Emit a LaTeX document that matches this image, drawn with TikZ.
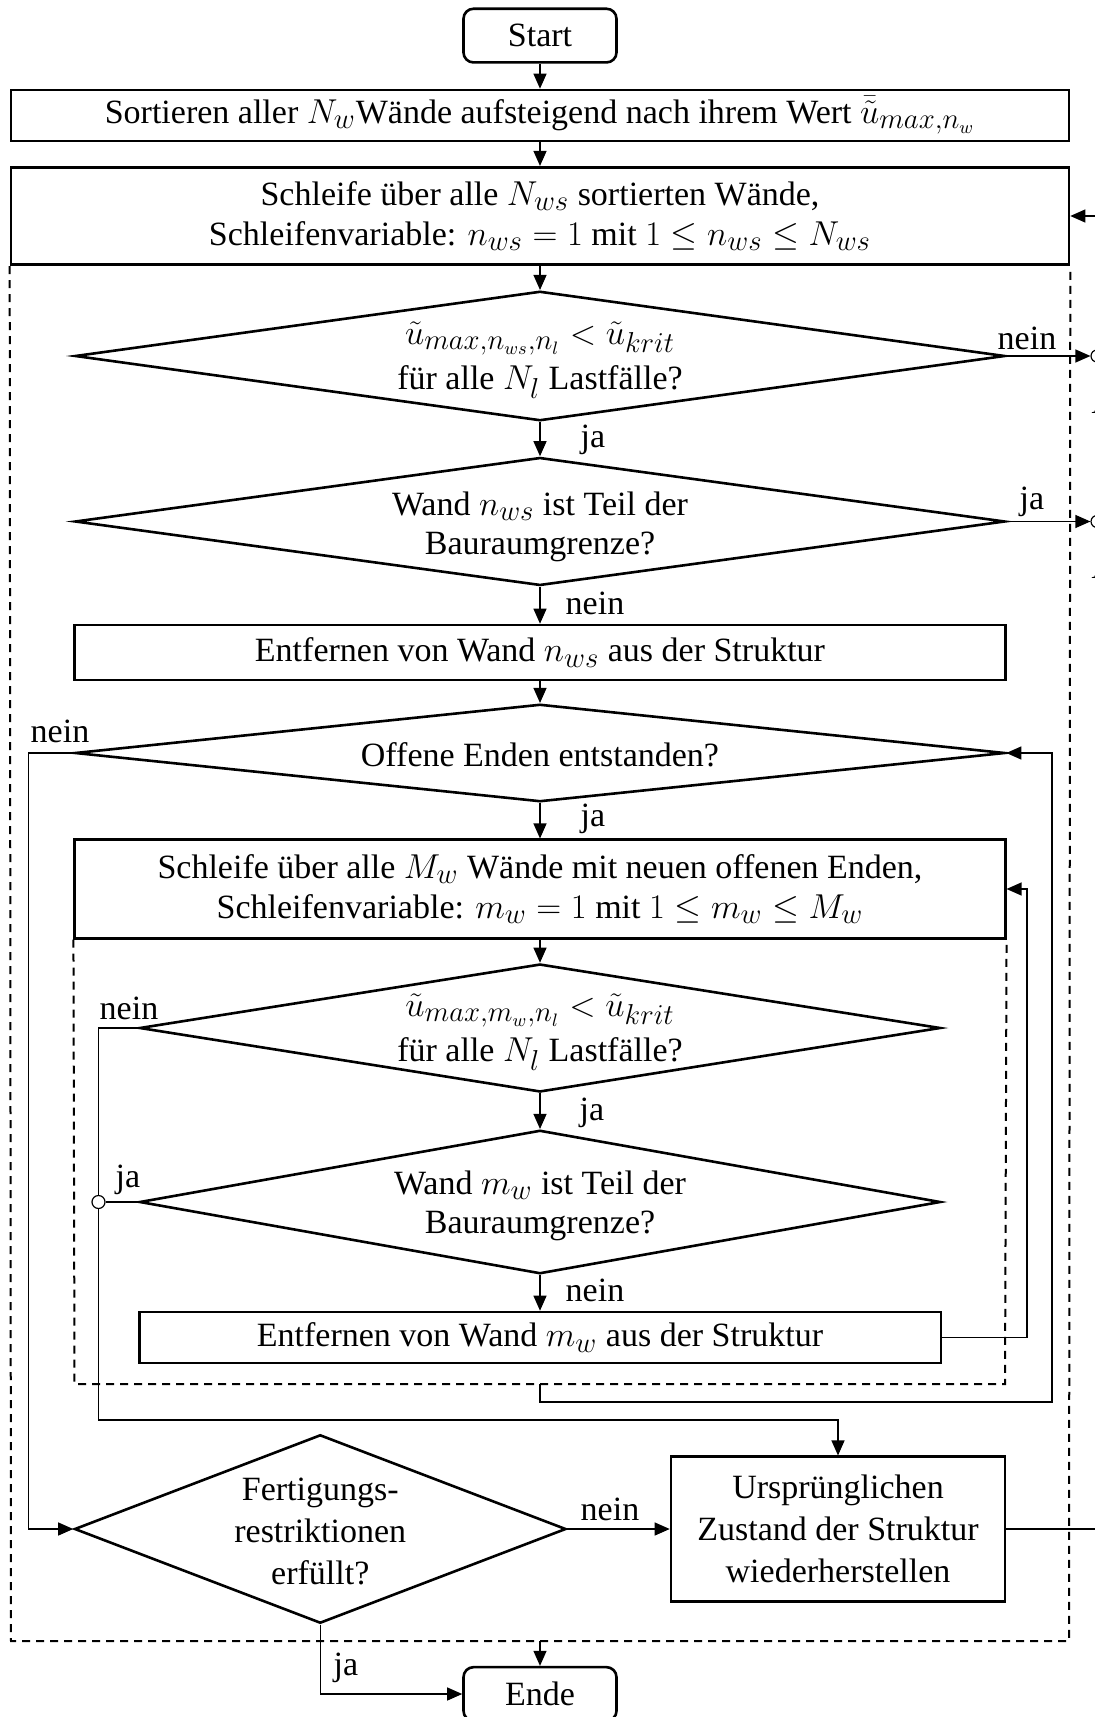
\documentclass[tikz,border=0pt]{standalone}
\usepackage{fontspec}
\setmainfont{Liberation Serif}
\usetikzlibrary{arrows.meta,shapes.geometric}
% math set slightly larger than the running text
\newcommand{\mth}[1]{{\fontsize{19pt}{19.7pt}\selectfont$#1$}}
\begin{document}
\begin{tikzpicture}[x=0.5pt,y=-0.5pt,
  every node/.style={font=\fontsize{17pt}{19.7pt}\selectfont},
  proc/.style={draw, line width=1.3pt, inner sep=0pt, align=center},
  term/.style={proc, rounded corners=5pt},
  dec/.style={draw, line width=1.3pt, diamond, inner sep=0pt},
  txt/.style={align=center, inner sep=0pt},
  lbl/.style={inner sep=0pt},
  flow/.style={line width=0.6pt, -{Triangle[length=7.5pt,width=6.5pt]}},
  link/.style={line width=0.6pt},
  loopline/.style={line width=1pt, dash pattern=on 4pt off 3pt},
  conn/.style={circle, draw, line width=0.6pt, fill=white, inner sep=0pt, minimum size=6pt},
]
\useasboundingbox (0,0) rectangle (1095,1717);
\clip (0,0) rectangle (1095,1717);

% ---------- main column ----------
\node[term, minimum width=76.5pt, minimum height=26.85pt] (start) at (540,35.6) {Start};
\node[proc, minimum width=529pt, minimum height=25.5pt] (sort) at (540,115.5)
  {Sortieren aller \mth{N_w}Wände aufsteigend nach ihrem Wert \mth{\bar{\tilde{u}}_{max,n_w}}};
\node[proc, minimum width=529pt, minimum height=48.75pt] (loop1) at (540,216)
  {Schleife über alle \mth{N_{ws}} sortierten Wände,\\
   Schleifenvariable: \mth{n_{ws}=1} mit \mth{1\le n_{ws}\le N_{ws}}};

\node[dec, minimum width=465pt, minimum height=64.75pt] (d1) at (540,356) {};
\node[txt] (d1t) at (540,360)
  {\mth{\tilde{u}_{max,n_{ws},n_l}<\tilde{u}_{krit}}\\[3pt] für alle \mth{N_l} Lastfälle?};

\node[dec, minimum width=465pt, minimum height=64pt] (d2) at (540,521.5) {};
\node[txt] (d2t) at (540,527) {Wand \mth{n_{ws}} ist Teil der\\ Bauraumgrenze?};

\node[proc, minimum width=465.25pt, minimum height=27.5pt] (rm1) at (540,652.5)
  {Entfernen von Wand \mth{n_{ws}} aus der Struktur};

\node[dec, minimum width=465pt, minimum height=48.75pt] (d3) at (540,753) {};
\node[txt] (d3t) at (540,755) {Offene Enden entstanden?};

\node[proc, minimum width=465.25pt, minimum height=49.25pt] (loop2) at (540,889)
  {Schleife über alle \mth{M_w} Wände mit neuen offenen Enden,\\
   Schleifenvariable: \mth{m_w=1} mit \mth{1\le m_w\le M_w}};

\node[dec, minimum width=400.5pt, minimum height=64pt] (d4) at (540,1028) {};
\node[txt] (d4t) at (540,1032)
  {\mth{\tilde{u}_{max,m_w,n_l}<\tilde{u}_{krit}}\\[3pt] für alle \mth{N_l} Lastfälle?};

\node[dec, minimum width=400.5pt, minimum height=71.75pt] (d5) at (540,1202) {};
\node[txt] (d5t) at (540,1206) {Wand \mth{m_w} ist Teil der\\ Bauraumgrenze?};

\node[proc, minimum width=400.8pt, minimum height=25.5pt] (rm2) at (540,1337.5)
  {Entfernen von Wand \mth{m_w} aus der Struktur};

\node[dec, minimum width=245.75pt, minimum height=94.25pt] (fert) at (320.25,1529) {};
\node[txt, font=\fontsize{17pt}{21pt}\selectfont] (fertt) at (320.25,1531)
  {Fertigungs-\\ restriktionen\\ erfüllt?};

\node[proc, minimum width=167pt, minimum height=72.25pt,
      font=\fontsize{17pt}{21pt}\selectfont] (restore) at (838,1529)
  {Ursprünglichen\\ Zustand der Struktur\\ wiederherstellen};

\node[term, minimum width=76.5pt, minimum height=26.85pt] (ende) at (540,1694) {Ende};

% ---------- loop regions ----------
\coordinate (outBot) at (540,1641);
\coordinate (inBot) at (540,1384);
\draw[loopline] (loop1.south west) -- (11,1641) -- (1069,1641) -- (loop1.south east);
\draw[loopline] (loop2.south west) -- (74.5,1384) -- (1005,1384) -- (loop2.south east);

% ---------- straight flow ----------
\draw[flow] (start) -- (sort);
\draw[flow] (sort) -- (loop1);
\draw[flow] (loop1) -- (d1);
\draw[flow] (d1) -- (d2);
\draw[flow] (d2) -- (rm1);
\draw[flow] (rm1) -- (d3);
\draw[flow] (d3) -- (loop2);
\draw[flow] (loop2) -- (d4);
\draw[flow] (d4) -- (d5);
\draw[flow] (d5) -- (rm2);
\draw[flow] (outBot) -- (ende.north);

% ---------- off-page connectors at the right ----------
\node[conn] (conA) at (1097,356) {};
\node[conn] (conB) at (1097,521.5) {};
\node[lbl] (conAt) at (1104,402) {A};
\node[lbl] (conBt) at (1104,567) {A};
\draw[flow] (d1.east) -- (d1.east -| conA.west);
\draw[flow] (d2.east) -- (d2.east -| conB.west);
\coordinate (retIn) at (1100,216);
\draw[flow] (retIn) -- (loop1.east);
\draw[link] (restore.east) -- (restore.east -| retIn);

% ---------- branches ----------
\draw[flow] (d3.west) -- (28.5,753) |- (fert.west);
\coordinate (bend) at (98.5,1420);
\draw[flow] (d4.west) -| (bend) -| (restore.north);
\node[conn, minimum size=6.5pt] (jc) at (98.5,1202) {};
\draw[link] (d5.west) -- (jc.east);
\draw[flow] (rm2.east) -- (1027,1337.5) |- (loop2.east);
\draw[flow] (inBot) -- (540,1402) -- (1052,1402) |- (d3.east);
\draw[flow] (fert.east) -- (fert.east -| restore.west);
\draw[flow] (fert.south) |- (ende.west);

% ---------- branch labels ----------
\node[lbl] (l1) at (1027,338) {nein};
\node[lbl] (l2) at (593,440) {ja};
\node[lbl] (l3) at (1032,502) {ja};
\node[lbl] (l4) at (595,603) {nein};
\node[lbl] (l5) at (60,731.5) {nein};
\node[lbl] (l6) at (593,819) {ja};
\node[lbl] (l7) at (129,1008.5) {nein};
\node[lbl] (l8) at (592,1112.5) {ja};
\node[lbl] (l9) at (128,1180) {ja};
\node[lbl] (l10) at (595,1290) {nein};
\node[lbl] (l11) at (610,1509) {nein};
\node[lbl] (l12) at (346,1668) {ja};
\end{tikzpicture}
\end{document}
